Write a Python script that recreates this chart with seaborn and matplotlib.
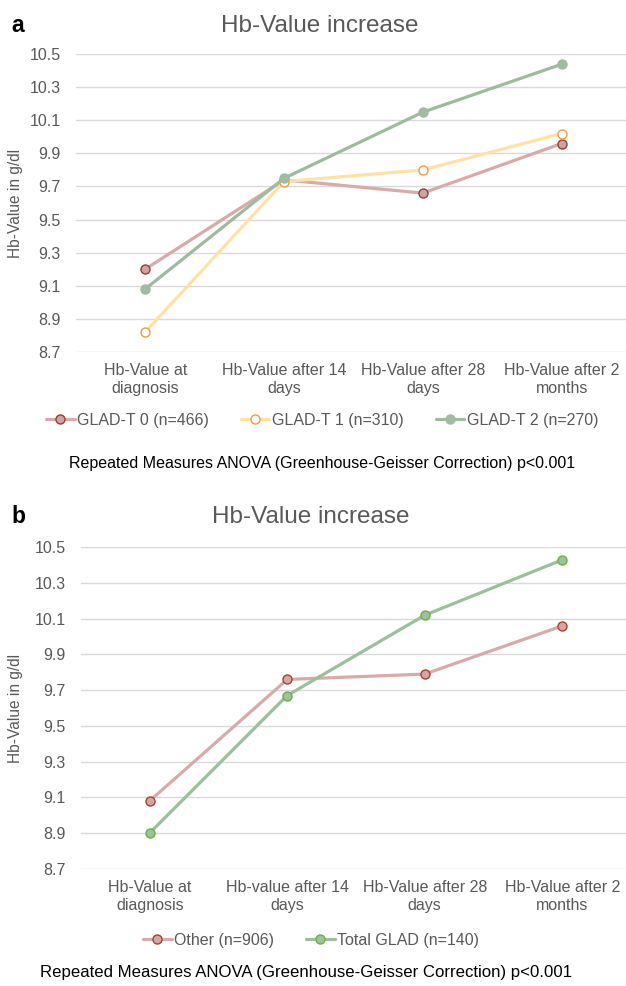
import numpy as np
import pandas as pd
import seaborn as sns
import matplotlib.pyplot as plt

# x categories (panel b has a lowercase "value" in the second label)
categories_a = ['Hb-Value at\ndiagnosis', 'Hb-Value after 14\ndays',
                'Hb-Value after 28\ndays', 'Hb-Value after 2\nmonths']
categories_b = ['Hb-Value at\ndiagnosis', 'Hb-value after 14\ndays',
                'Hb-Value after 28\ndays', 'Hb-Value after 2\nmonths']

# panel a series
glad_t0 = [9.20, 9.74, 9.66, 9.96]
glad_t1 = [8.82, 9.73, 9.80, 10.02]
glad_t2 = [9.08, 9.75, 10.15, 10.44]
names_a = ['GLAD-T 0 (n=466)', 'GLAD-T 1 (n=310)', 'GLAD-T 2 (n=270)']

# panel b series
other = [9.08, 9.76, 9.79, 10.06]
total_glad = [8.90, 9.67, 10.12, 10.43]
names_b = ['Other (n=906)', 'Total GLAD (n=140)']

y_ticks = [8.7, 8.9, 9.1, 9.3, 9.5, 9.7, 9.9, 10.1, 10.3, 10.5]
footnote = 'Repeated Measures ANOVA (Greenhouse-Geisser Correction) p<0.001'

# line colour, marker face, marker edge
styles_a = [('#D9AAAA', '#CFA3A3', '#94402C'),
            ('#FFE1A6', '#FFFFFF', '#F29B3C'),
            ('#9DBC9D', '#A2B9A2', '#A2B9A2')]
styles_b = [('#D9AAAA', '#D6A6A6', '#A2452D'),
            ('#9CBF9C', '#9CC39A', '#6DB043')]

sns.set_style('white')
plt.rcParams['font.family'] = ['Liberation Sans', 'DejaVu Sans']

grey = '#595959'


def long_frame(names, series):
    rows = []
    for name, vals in zip(names, series):
        for i, v in enumerate(vals):
            rows.append({'group': name, 'pos': i, 'value': v})
    return pd.DataFrame(rows)


def draw_panel(ax, df, names, styles, categories):
    for name, (lc, fc, ec) in zip(names, styles):
        sns.lineplot(data=df[df['group'] == name], x='pos', y='value', ax=ax,
                     color=lc, linewidth=2.3, marker='o', markersize=6.5,
                     markerfacecolor=fc, markeredgecolor=ec,
                     markeredgewidth=1.0, label=name)
    ax.set_xlim(-0.5, 3.5)
    ax.set_ylim(8.698, 10.502)
    ax.set_yticks(y_ticks)
    ax.set_yticklabels([f'{t:.1f}' for t in y_ticks])
    ax.set_xticks(range(len(categories)))
    ax.set_xticklabels(categories)
    ax.grid(axis='y', color='#D9D9D9', linewidth=1.0)
    ax.set_axisbelow(True)
    for s in ax.spines.values():
        s.set_visible(False)
    ax.tick_params(axis='both', length=0, labelsize=11.5, labelcolor=grey)
    ax.tick_params(axis='y', pad=11)
    ax.tick_params(axis='x', pad=8)
    ax.set_xlabel('')
    ax.set_ylabel('')
    ax.get_legend().remove()


fig = plt.figure(figsize=(6.26, 9.86), dpi=100)
W, H = 626.0, 986.0

# panel a
ax_a = fig.add_axes([76 / W, 1 - 352 / H, (631 - 76) / W, (352 - 54) / H])
df_a = long_frame(names_a, [glad_t0, glad_t1, glad_t2])
draw_panel(ax_a, df_a, names_a, styles_a, categories_a)

# panel b
ax_b = fig.add_axes([81 / W, 1 - 869 / H, (631 - 81) / W, (869 - 547) / H])
df_b = long_frame(names_b, [other, total_glad])
draw_panel(ax_b, df_b, names_b, styles_b, categories_b)

# titles, panel letters, y labels, legends, footnotes
for ax, letter, title_x, base_y, leg_x, leg_y, foot_x, foot_y, foot_size in [
        (ax_a, 'a', 320, 32, 322, 420, 322, 463, 11.5),
        (ax_b, 'b', 311, 523, 311, 940, 306, 972, 12.1)]:
    fig.text(11 / W, 1 - base_y / H, letter, fontsize=16.5, fontweight='bold',
             color='black', ha='left', va='baseline')
    fig.text(title_x / W, 1 - base_y / H, 'Hb-Value increase', fontsize=17.5,
             color=grey, ha='center', va='baseline')
    pos = ax.get_position()
    fig.text(16 / W, (pos.y0 + pos.y1) / 2, 'Hb-Value in g/dl', rotation=90,
             fontsize=11.2, color=grey, ha='center', va='center')
    handles, labels = ax.get_legend_handles_labels()
    fig.legend(handles, labels, loc='center', bbox_to_anchor=(leg_x / W, 1 - leg_y / H),
               ncol=len(labels), frameon=False, fontsize=11.5, labelcolor=grey,
               handlelength=1.8, handletextpad=0.15, columnspacing=2.0,
               borderpad=0, borderaxespad=0)
    fig.text(foot_x / W, 1 - foot_y / H, footnote, fontsize=foot_size, color='black',
             ha='center', va='center')

fig.savefig('out.png', dpi=100)
